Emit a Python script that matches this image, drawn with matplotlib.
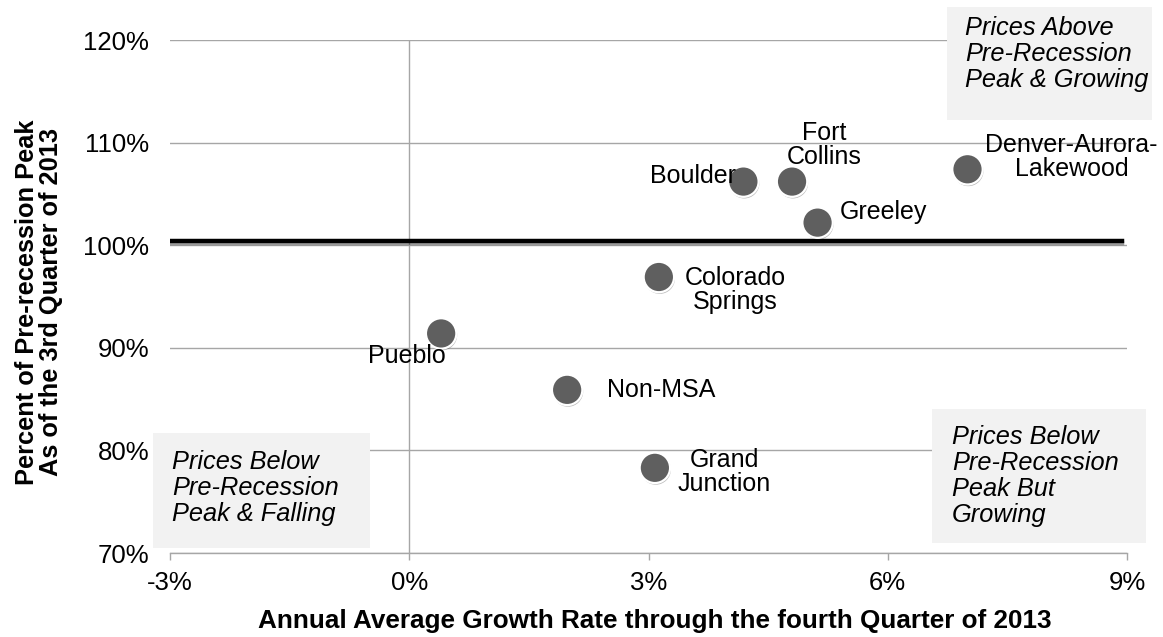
import matplotlib
matplotlib.use("Agg")
import matplotlib.pyplot as plt
import matplotlib.patheffects as pe
from matplotlib.patches import Rectangle
from matplotlib.ticker import FuncFormatter

plt.rcParams['font.family'] = ['Liberation Sans', 'DejaVu Sans']

# dados
areas = ["Boulder", "Fort\nCollins", "Denver-Aurora-\nLakewood", "Greeley",
         "Colorado\nSprings", "Pueblo", "Non-MSA", "Grand\nJunction"]
crescimento = [4.19, 4.80, 7.00, 5.12, 3.13, 0.40, 1.98, 3.08]   # % ao ano
pct_pico = [106.2, 106.2, 107.4, 102.2, 96.9, 91.4, 85.9, 78.3]  # % do pico
linha_pico = 100.4

x_ticks = [-3, 0, 3, 6, 9]
y_ticks = [70, 80, 90, 100, 110, 120]

# deslocamento dos rótulos (pontos) e alinhamento
desloc = [(-5, 4, "right"), (23, 26, "center"), (75, 9, "center"), (16, 8, "left"),
          (55, -9, "center"), (3, -16, "right"), (29, 0, "left"), (50, -3, "center")]

cinza = "#a6a6a6"

fig = plt.figure(figsize=(11.63, 6.37), dpi=100)
ax = fig.add_axes([170 / 1163, 1 - 553 / 637, 957 / 1163, 513 / 637])

ax.set_xlim(-3, 9)
ax.set_ylim(70, 120)
ax.set_xticks(x_ticks)
ax.set_yticks(y_ticks)
ax.xaxis.set_major_formatter(FuncFormatter(lambda v, p: "%d%%" % v))
ax.yaxis.set_major_formatter(FuncFormatter(lambda v, p: "%d%%" % v))
ax.tick_params(axis="y", length=0, pad=15, labelsize=18.5)
ax.tick_params(axis="x", length=5, color=cinza, width=1, pad=8, labelsize=18.5)

for s in ["top", "right", "left"]:
    ax.spines[s].set_visible(False)
ax.spines["bottom"].set_color(cinza)
ax.spines["bottom"].set_linewidth(1)

ax.grid(axis="y", color=cinza, linewidth=1)
ax.axvline(0, color=cinza, linewidth=1, zorder=1)
ax.set_axisbelow(True)

# linha do pico pré-recessão
ax.axhline(linha_pico, xmax=0.995, color="black", linewidth=3.2, zorder=2,
           path_effects=[pe.SimpleLineShadow(offset=(0, -1.5), alpha=0.35), pe.Normal()])

ax.scatter(crescimento, pct_pico, s=480, color="#5f5f5f", edgecolor="white",
           linewidth=1.6, zorder=3,
           path_effects=[pe.SimplePatchShadow(offset=(0.6, -1.2), alpha=0.3), pe.Normal()])

for nome, x, y, (dx, dy, ha) in zip(areas, crescimento, pct_pico, desloc):
    ax.annotate(nome, (x, y), xytext=(dx, dy), textcoords="offset points",
                ha=ha, va="center", fontsize=18, linespacing=1.0, zorder=4)

# caixas dos quadrantes (em pixels da figura)
caixas = [
    (947, 7, 1152, 120, 965, 54, "Prices Above\nPre-Recession\nPeak & Growing"),
    (932, 409, 1146, 543, 952, 476, "Prices Below\nPre-Recession\nPeak But\nGrowing"),
    (153, 433, 370, 548, 172, 488, "Prices Below\nPre-Recession\nPeak & Falling"),
]
for x0, y0, x1, y1, tx, ty, txt in caixas:
    fig.patches.append(Rectangle((x0 / 1163, 1 - y1 / 637), (x1 - x0) / 1163, (y1 - y0) / 637,
                                 transform=fig.transFigure, facecolor="#f2f2f2",
                                 edgecolor="none", zorder=5))
    fig.text(tx / 1163, 1 - ty / 637, txt, style="italic", fontsize=18.3,
             ha="left", va="center", linespacing=1.12, zorder=6)

fig.text(655 / 1163, 1 - 628 / 637,
         "Annual Average Growth Rate through the fourth Quarter of 2013",
         ha="center", va="baseline", fontsize=18.8, fontweight="bold")
fig.text(39 / 1163, 1 - 302 / 637,
         "Percent of Pre-recession Peak\nAs of the 3rd Quarter of 2013",
         ha="center", va="center", rotation=90, fontsize=18.3, fontweight="bold",
         linespacing=1.05)

fig.savefig("out.png", dpi=100)
